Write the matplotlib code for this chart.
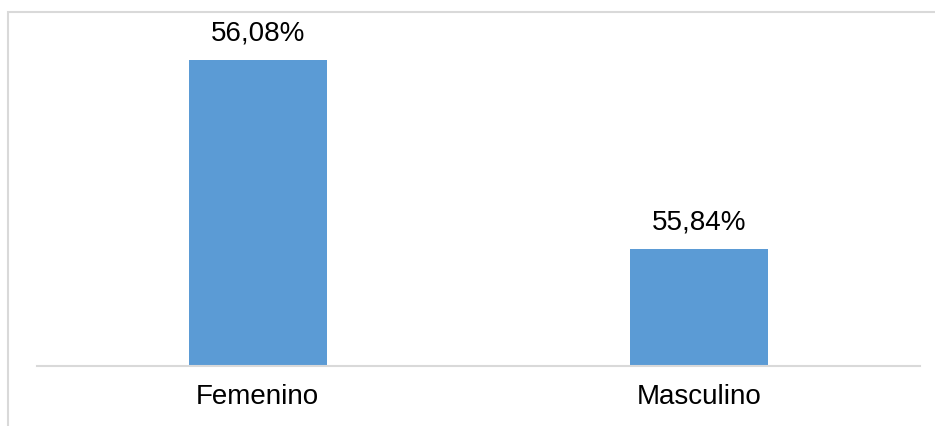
import matplotlib
matplotlib.use("Agg")
import matplotlib.pyplot as plt
from matplotlib.patches import Rectangle

categories = ["Femenino", "Masculino"]
values = [56.08, 55.84]
labels = ["56,08%", "55,84%"]

plt.rcParams['font.family'] = ['Liberation Sans', 'DejaVu Sans']

W, H = 935, 426
fig = plt.figure(figsize=(W / 100, H / 100), dpi=100)

# chart frame (clipped at right and bottom)
fig.patches.append(Rectangle((8 / W, -0.1), 1.2, (H - 12) / H + 0.1,
                             transform=fig.transFigure, fill=False,
                             edgecolor="#d9d9d9", linewidth=1.5))

ax_bottom_px, ax_top_px = 366, 30
ax = fig.add_axes([37 / W, (H - ax_bottom_px) / H, (920 - 37) / W,
                   (ax_bottom_px - ax_top_px) / H])

scale = (values[0] - values[1]) / (249 - 60)
ymin = values[1] - (ax_bottom_px - 249) * scale
ymax = ymin + (ax_bottom_px - ax_top_px) * scale

x = list(range(len(categories)))
bars = ax.bar(x, [v - ymin for v in values], bottom=ymin, width=0.313,
              color="#5b9bd5")
ax.set_xlim(-0.5, 1.5)
ax.set_ylim(ymin, ymax)

for xi, v, lab in zip(x, values, labels):
    ax.annotate(lab, (xi, v), xytext=(0, 10), textcoords="offset points",
                ha="center", va="bottom", fontsize=20, color="#000000")

ax.set_xticks(x)
ax.set_xticklabels(categories, fontsize=20, color="#000000")
ax.tick_params(axis="x", length=0, pad=13)
ax.set_yticks([])
for s in ["top", "right", "left"]:
    ax.spines[s].set_visible(False)
ax.spines["bottom"].set_color("#d9d9d9")
ax.spines["bottom"].set_linewidth(1.5)
ax.patch.set_alpha(0)

fig.savefig("out.png", dpi=100)
